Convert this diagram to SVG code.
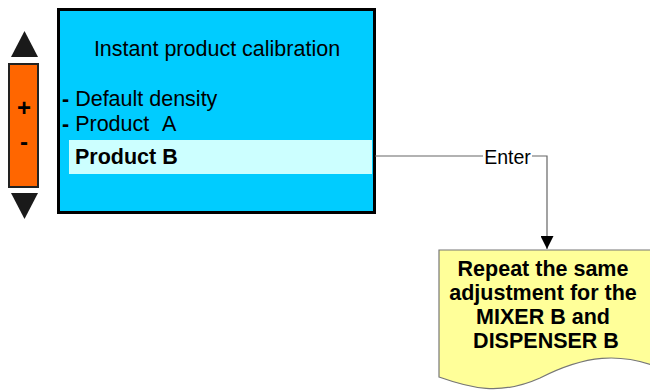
<svg xmlns="http://www.w3.org/2000/svg" width="650" height="392" viewBox="0 0 650 392">
<defs>
<style>
text{font-family:"Liberation Sans",Arial,sans-serif;fill:#000}
.tri{fill:#1a1a1a}
.line{fill:none;stroke:#666;stroke-width:1.2}
</style>
<marker id="arr" viewBox="0 0 10 10" refX="10" refY="5" markerWidth="15" markerHeight="13" markerUnits="userSpaceOnUse" orient="auto"><path d="M0,0L10,5L0,10z" fill="#000"/></marker>
</defs>
<rect width="650" height="392" fill="#fff"/>
<g id="control">
<path class="tri" d="M11,57L38,57L24.5,31z"/>
<rect x="9" y="64" width="29" height="123" fill="#FF6600" stroke="#222" stroke-width="2"/>
<text x="24" y="116" font-size="24" font-weight="bold" text-anchor="middle">+</text>
<text x="24" y="150" font-size="24" font-weight="bold" text-anchor="middle">-</text>
<path class="tri" d="M11,193L38,193L24.5,219z"/>
</g>
<g id="screen">
<rect x="58.5" y="9.5" width="316" height="203" fill="#00CCFF" stroke="#000" stroke-width="3"/>
<text x="217" y="56" font-size="21.5" text-anchor="middle">Instant product calibration</text>
<text x="62" y="106" font-size="21.5"><tspan font-weight="bold">-</tspan> Default density</text>
<text x="62" y="131" font-size="21.5"><tspan font-weight="bold">-</tspan> Product<tspan x="162">A</tspan></text>
<rect x="69" y="140" width="303" height="34" fill="#CCFFFF"/>
<text x="75" y="164" font-size="21.5" font-weight="bold">Product B</text>
</g>
<g id="connectors">
<path class="line" d="M375,156H547V249" marker-end="url(#arr)"/>
<rect x="483" y="146" width="49" height="20" fill="#fff"/>
<text x="507.5" y="164" font-size="19.5" text-anchor="middle">Enter</text>
</g>
<g id="note">
<path d="M439,250H660V368C620,352 585,355 540,378C500,396 470,388 439,377Z" fill="#FFFF99" stroke="#777" stroke-width="1.2"/>
<text font-size="21.5" font-weight="bold" text-anchor="middle">
<tspan x="546" y="276">Repeat the same</tspan>
<tspan x="546" y="300">adjustment for the</tspan>
<tspan x="546" y="324">MIXER B and</tspan>
<tspan x="546" y="348">DISPENSER B</tspan>
</text>
</g>
</svg>
